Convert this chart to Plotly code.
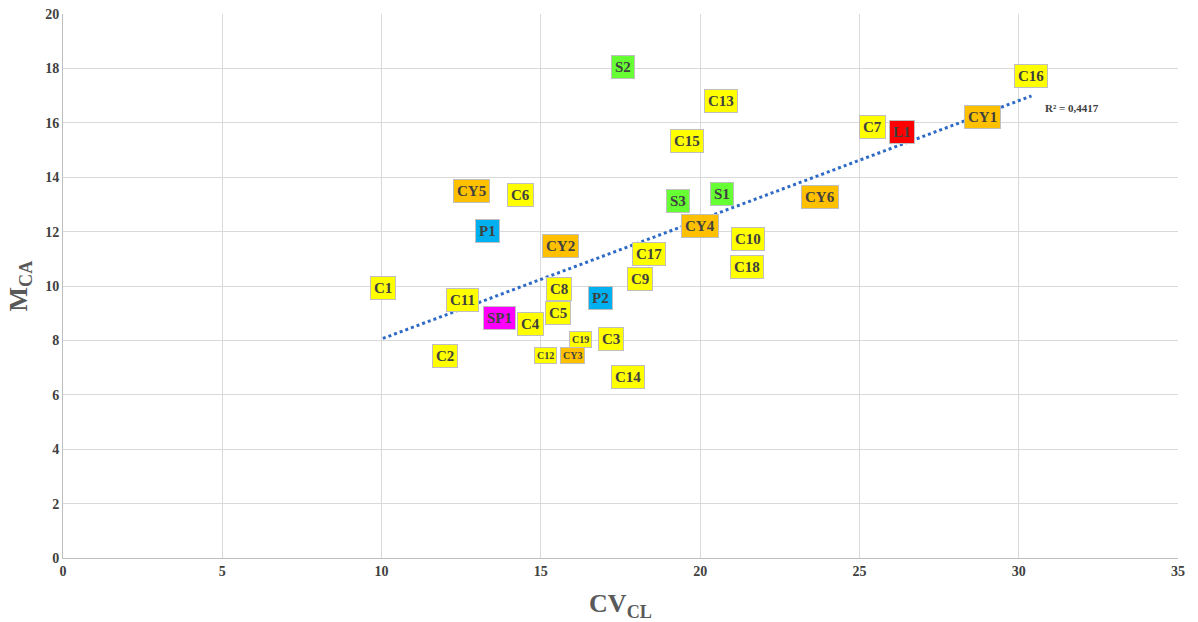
import numpy as np
import plotly.graph_objects as go

labels = ["S2", "C13", "C16", "C7", "L1", "CY1", "C15", "CY5", "C6", "S3", "S1", "CY6",
          "P1", "CY4", "CY2", "C10", "C17", "C18", "C9", "C1", "C8", "P2", "C11", "C5",
          "SP1", "C4", "C19", "C3", "C12", "CY3", "C2", "C14"]
cv_cl = [17.57, 20.64, 30.40, 25.41, 26.35, 28.86, 19.60, 12.83, 14.37, 19.29, 20.70, 23.75,
         13.33, 19.98, 15.62, 21.49, 18.38, 21.46, 18.10, 10.04, 15.56, 16.88, 12.55, 15.53,
         13.71, 14.68, 16.25, 17.19, 15.15, 16.00, 11.98, 17.75]
m_ca = [18.05, 16.80, 17.72, 15.85, 15.66, 16.21, 15.33, 13.49, 13.35, 13.13, 13.38, 13.27,
        12.02, 12.21, 11.47, 11.73, 11.18, 10.70, 10.26, 9.93, 9.89, 9.56, 9.49, 9.01,
        8.82, 8.60, 8.05, 8.05, 7.46, 7.46, 7.43, 6.65]

x_ticks = [0, 5, 10, 15, 20, 25, 30, 35]
y_ticks = [0, 2, 4, 6, 8, 10, 12, 14, 16, 18, 20]
r2_text = "R² = 0,4417"

group_colors = {"CY": "#FFC000", "SP": "#FF00FF", "C": "#FFFF00", "S": "#66FF33",
                "P": "#00B0F0", "L": "#FF0000"}
small_labels = {"C12", "C19", "CY3"}


def color_of(lbl):
    for pre in ["CY", "SP", "C", "S", "P", "L"]:
        if lbl.startswith(pre):
            return group_colors[pre]
    return "#FFFF00"


fig = go.Figure()

# points (hidden under their labels)
fig.add_trace(go.Scatter(x=cv_cl, y=m_ca, mode="markers",
                         marker=dict(size=5, color="#4472C4"),
                         showlegend=False, hoverinfo="text", text=labels))

# linear trendline
xa = np.array(cv_cl)
ya = np.array(m_ca)
slope, intercept = np.polyfit(xa, ya, 1)
xt = np.array([xa.min(), xa.max()])
fig.add_trace(go.Scatter(x=xt, y=slope * xt + intercept, mode="lines",
                         line=dict(color="#2E6BC6", width=3, dash="dot"),
                         showlegend=False, hoverinfo="skip"))

for lbl, x, y in zip(labels, cv_cl, m_ca):
    small = lbl in small_labels
    fig.add_annotation(x=x, y=y, text=lbl, showarrow=False,
                       font=dict(family="Liberation Serif", size=10 if small else 15,
                                 color="#404040", weight="bold"),
                       bgcolor=color_of(lbl), bordercolor="#BFBFBF", borderwidth=1,
                       borderpad=2 if small else 3)

fig.add_annotation(x=xt[1], y=slope * xt[1] + intercept, text=r2_text, showarrow=False,
                   xanchor="left", yanchor="middle", xshift=12, yshift=-12,
                   font=dict(family="Liberation Serif", size=11, color="#404040", weight="bold"))

tick_font = dict(family="Liberation Serif", size=14, color="#404040", weight="bold")

fig.update_xaxes(range=[0, 35], tickvals=x_ticks, showgrid=True, gridcolor="#D9D9D9",
                 gridwidth=1, zeroline=False, showline=True, linecolor="#BFBFBF",
                 tickfont=tick_font, ticks="", automargin=False,
                 title=dict(text="CV<sub>CL</sub>", standoff=16,
                            font=dict(family="Liberation Serif", size=26, color="#595959",
                                      weight="bold")))
fig.update_yaxes(range=[0, 20], tickvals=y_ticks, showgrid=True, gridcolor="#D9D9D9",
                 gridwidth=1, zeroline=False, showline=True, linecolor="#BFBFBF",
                 tickfont=tick_font, ticks="", automargin=False,
                 title=dict(text="M<sub>CA</sub>", standoff=10,
                            font=dict(family="Liberation Serif", size=26, color="#595959",
                                      weight="bold")))

fig.update_layout(width=1198, height=622, plot_bgcolor="white", paper_bgcolor="white",
                  margin=dict(l=63, r=20, t=14, b=64, autoexpand=False), showlegend=False)

fig.write_html("out.html")
